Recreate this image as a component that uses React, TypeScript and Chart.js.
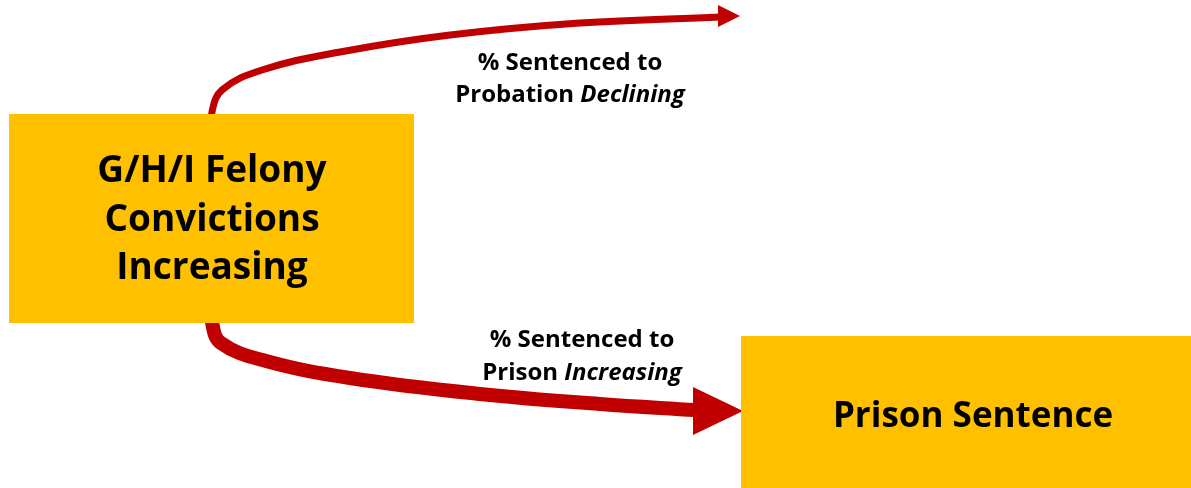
import React, { useEffect, useRef } from "react";
import { Chart, registerables } from "chart.js";

Chart.register(...registerables);

// Arrow shafts (diagram coordinates, x to the right, y downward); first point lies under the box
const probationArrowX = [212, 212, 222, 262, 340, 450, 580, 720];
const probationArrowY = [135, 112, 90, 70, 52, 35, 23, 17];
const prisonArrowX = [212, 212, 221, 266, 350, 480, 600, 695];
const prisonArrowY = [300, 322, 343, 361, 378, 394, 404, 410];

// Arrowheads: tip and base
const headTipX = [740, 743];
const headTipY = [16, 411];
const headBaseX = [718, 693];
const headHalf = [11, 24];

// Boxes
const boxLeft = [9, 741];
const boxRight = [414, 1191];
const boxTop = [114, 336];
const boxBottom = [323, 488];
const boxTextX = [212, 973];
const boxFontSize = [37, 35];
const boxBaselines = [[182, 231, 279], [427]];
const boxLines = [["G/H/I Felony", "Convictions", "Increasing"], ["Prison Sentence"]];

// Arrow labels
const labelX = [570, 582];
const labelBaseline1 = [70, 347];
const labelBaseline2 = [102, 380];
const labelLine1 = ["% Sentenced to", "% Sentenced to"];
const labelLine2Plain = ["Probation ", "Prison "];
const labelLine2Italic = ["Declining", "Increasing"];

const RED = "#C00000";
const GOLD = "#FFC000";
const FONT = "'Open Sans', 'Noto Sans', sans-serif";

const diagramPlugin = {
  id: "diagram",
  afterDatasetsDraw(chart: any) {
    const ctx = chart.ctx;
    const xs = chart.scales.x;
    const ys = chart.scales.y;
    const px = (v: number) => xs.getPixelForValue(v);
    const py = (v: number) => ys.getPixelForValue(v);
    ctx.save();
    // arrowheads
    for (let i = 0; i < headTipX.length; i++) {
      ctx.fillStyle = RED;
      ctx.beginPath();
      ctx.moveTo(px(headTipX[i]), py(headTipY[i]));
      ctx.lineTo(px(headBaseX[i]), py(headTipY[i] - headHalf[i]));
      ctx.lineTo(px(headBaseX[i]), py(headTipY[i] + headHalf[i]));
      ctx.closePath();
      ctx.fill();
    }
    // boxes
    for (let i = 0; i < boxLeft.length; i++) {
      const x0 = px(boxLeft[i]);
      const x1 = px(boxRight[i]);
      const y0 = py(boxTop[i]);
      const y1 = py(boxBottom[i]);
      ctx.fillStyle = GOLD;
      ctx.fillRect(x0, y0, x1 - x0, y1 - y0);
      ctx.fillStyle = "#000";
      ctx.font = `bold ${boxFontSize[i]}px ${FONT}`;
      ctx.textAlign = "center";
      ctx.textBaseline = "alphabetic";
      boxLines[i].forEach((t, k) => {
        ctx.fillText(t, px(boxTextX[i]), py(boxBaselines[i][k]));
      });
    }
    // labels
    const bold = `bold 24px ${FONT}`;
    const ital = `italic bold 24px ${FONT}`;
    for (let i = 0; i < labelX.length; i++) {
      const cx = px(labelX[i]);
      ctx.fillStyle = "#000";
      ctx.textBaseline = "alphabetic";
      ctx.textAlign = "center";
      ctx.font = bold;
      ctx.fillText(labelLine1[i], cx, py(labelBaseline1[i]));
      const w1 = ctx.measureText(labelLine2Plain[i]).width;
      ctx.font = ital;
      const w2 = ctx.measureText(labelLine2Italic[i]).width;
      const start = cx - (w1 + w2) / 2;
      ctx.textAlign = "left";
      ctx.font = bold;
      ctx.fillText(labelLine2Plain[i], start, py(labelBaseline2[i]));
      ctx.font = ital;
      ctx.fillText(labelLine2Italic[i], start + w1, py(labelBaseline2[i]));
    }
    ctx.restore();
  },
};

export default function App() {
  const ref = useRef<HTMLCanvasElement | null>(null);
  useEffect(() => {
    document.body.style.margin = "0";
    const canvas = ref.current!;
    const chart = new Chart(canvas, {
      type: "scatter",
      data: {
        datasets: [
          {
            data: probationArrowX.map((x, i) => ({ x, y: probationArrowY[i] })),
            showLine: true,
            borderColor: RED,
            borderWidth: 7,
            pointRadius: 0,
            tension: 0.4,
            borderCapStyle: "butt",
          } as any,
          {
            data: prisonArrowX.map((x, i) => ({ x, y: prisonArrowY[i] })),
            showLine: true,
            borderColor: RED,
            borderWidth: 14,
            pointRadius: 0,
            tension: 0.4,
            borderCapStyle: "butt",
          } as any,
        ],
      },
      options: {
        responsive: false,
        animation: false,
        layout: { padding: 0 },
        plugins: { legend: { display: false }, tooltip: { enabled: false } },
        scales: {
          x: { type: "linear", min: 0, max: 1191, display: false },
          y: { type: "linear", min: 0, max: 488, reverse: true, display: false },
        },
      },
      plugins: [diagramPlugin],
    });
    return () => chart.destroy();
  }, []);
  return (
    <div style={{ position: "absolute", left: 0, top: 0, width: 1191, height: 488, background: "#fff" }}>
      <canvas ref={ref} width={1191} height={488} />
    </div>
  );
}
